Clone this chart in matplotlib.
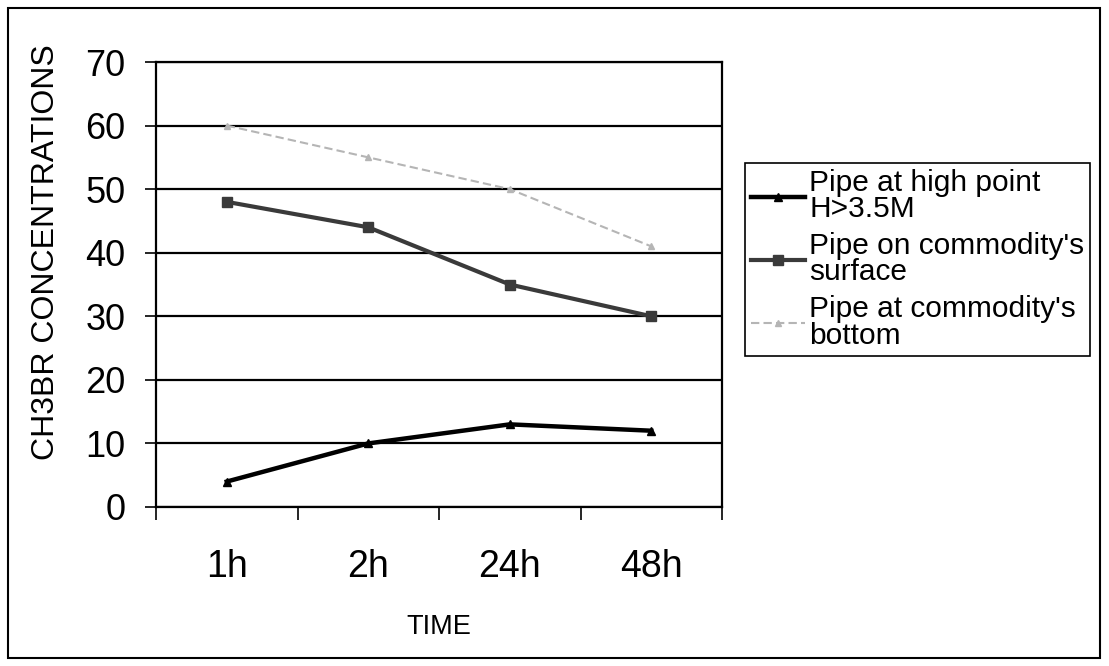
import matplotlib
matplotlib.use('Agg')
import matplotlib.pyplot as plt
from matplotlib.patches import Rectangle

plt.rcParams['font.family'] = ['Liberation Sans', 'DejaVu Sans']

times = ['1h', '2h', '24h', '48h']
high_point = [4, 10, 13, 12]
surface = [48, 44, 35, 30]
bottom = [60, 55, 50, 41]

labels = ['Pipe at high point\nH>3.5M',
          "Pipe on commodity's\nsurface",
          "Pipe at commodity's\nbottom"]

W, H = 1109, 666
fig = plt.figure(figsize=(W / 100, H / 100), dpi=100)

# outer frame of the whole chart
fig.patches.append(Rectangle((8 / W, 8 / H), 1092 / W, 650 / H, transform=fig.transFigure,
                             fill=False, edgecolor='black', linewidth=1.5))

ax = fig.add_axes([156 / W, 1 - 507 / H, 566 / W, 445 / H])

x = list(range(len(times)))
ax.plot(x, high_point, color='black', linewidth=3.2, marker='^', markersize=6, label=labels[0])
ax.plot(x, surface, color='#3a3a3a', linewidth=3, marker='s', markersize=7, label=labels[1])
ax.plot(x, bottom, color='#b5b5b5', linewidth=1.5, linestyle=(0, (4, 2)), marker='^',
        markersize=5, label=labels[2])

ax.set_xlim(-0.5, len(times) - 0.5)
ax.set_ylim(0, 70)
ax.set_yticks(range(0, 71, 10))
ax.yaxis.grid(True, color='black', linewidth=1.6)
ax.set_axisbelow(True)

# tick marks between categories, labels centred on categories
ax.set_xticks([i - 0.5 for i in range(len(times) + 1)])
ax.set_xticklabels([])
ax.set_xticks(x, minor=True)
ax.set_xticklabels(times, minor=True, fontsize=27)
ax.tick_params(axis='x', which='major', length=9, width=1.2, direction='out')
ax.tick_params(axis='x', which='minor', length=0, pad=30)
ax.tick_params(axis='y', length=8, width=1.2, direction='out', pad=14, labelsize=26)

for s in ax.spines.values():
    s.set_linewidth(1.6)
    s.set_color('black')

ax.set_xlabel('TIME', fontsize=19.5, labelpad=21)
ax.set_ylabel('CH3BR CONCENTRATIONS', fontsize=23)
ax.yaxis.set_label_coords((61 - 156) / 566, (507 - 252) / 445)

leg = fig.legend(loc='upper left', bbox_to_anchor=(745 / W, 1 - 163 / H), fontsize=21.5,
                 frameon=True, fancybox=False, framealpha=1, edgecolor='black',
                 handlelength=1.8, handletextpad=0.15, borderpad=0.2, labelspacing=0.3,
                 borderaxespad=0)
leg.get_frame().set_linewidth(1.2)
for t in leg.get_texts():
    t.set_linespacing(0.92)

fig.savefig('out.png', dpi=100)
